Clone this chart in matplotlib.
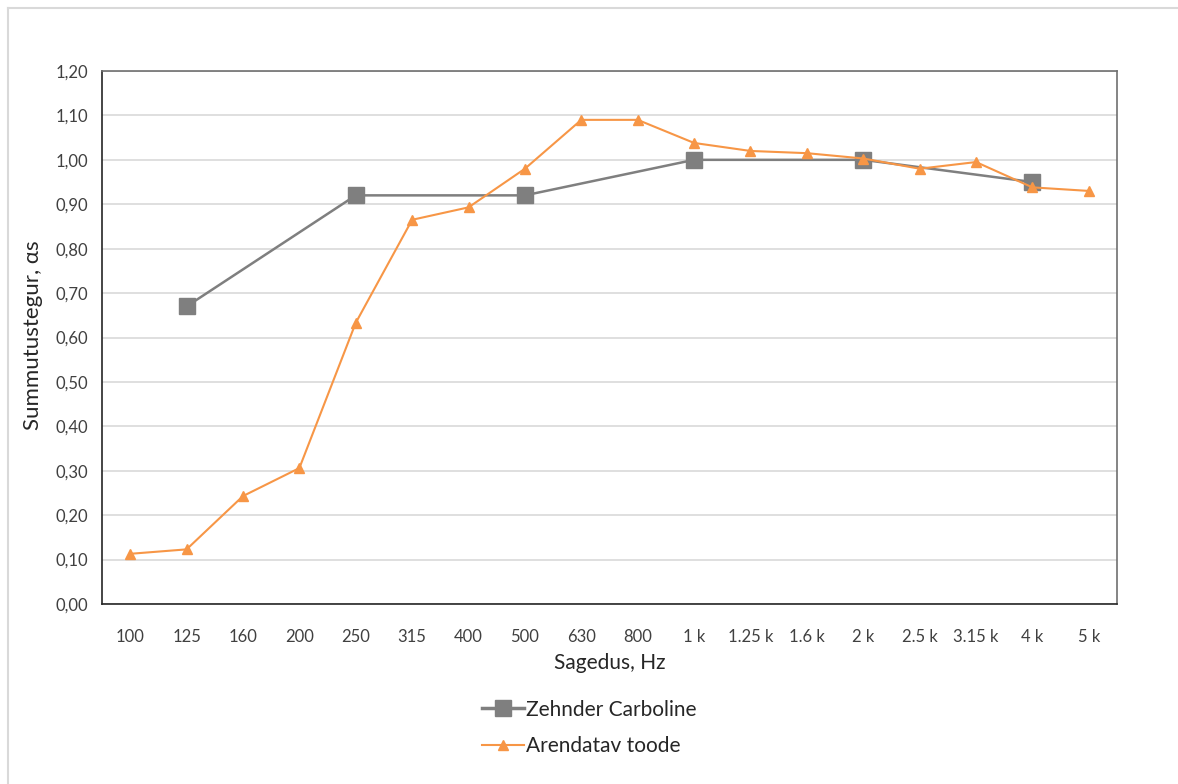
import matplotlib
matplotlib.use("Agg")
import matplotlib.pyplot as plt
from matplotlib.lines import Line2D

plt.rcParams['font.family'] = ['Lato', 'DejaVu Sans']

freqs = ["100", "125", "160", "200", "250", "315", "400", "500", "630", "800",
         "1 k", "1.25 k", "1.6 k", "2 k", "2.5 k", "3.15 k", "4 k", "5 k"]

# Zehnder Carboline is only measured at octave bands
zehnder_idx = [1, 4, 7, 10, 13, 16]
zehnder = [0.67, 0.92, 0.92, 1.00, 1.00, 0.95]

arendatav = [0.113, 0.123, 0.243, 0.306, 0.633, 0.865, 0.893, 0.98, 1.09, 1.09,
             1.038, 1.02, 1.015, 1.003, 0.98, 0.995, 0.938, 0.93]

gray = '#7f7f7f'
orange = '#f79646'

fig = plt.figure(figsize=(11.78, 7.84), dpi=100)
ax = fig.add_axes([102/1178, 1-604/784, (1117-102)/1178, (604-71)/784])

x = list(range(len(freqs)))
ax.plot(zehnder_idx, zehnder, color=gray, lw=1.8, marker='s', ms=11,
        mec=gray, mfc=gray, zorder=3, label='Zehnder Carboline')
ax.plot(x, arendatav, color=orange, lw=1.5, marker='^', ms=6.5,
        mec=orange, mfc=orange, zorder=4, label='Arendatav toode')

ax.set_xlim(-0.5, len(freqs) - 0.5)
ax.set_ylim(0, 1.2)
ax.set_yticks([i/10 for i in range(13)])
ax.set_yticklabels([f"{i/10:.2f}".replace('.', ',') for i in range(13)])
ax.set_xticks(x)
ax.set_xticklabels(freqs)
ax.tick_params(length=0, labelsize=12, colors='#404040', pad=10)
ax.tick_params(axis='x', pad=18)
ax.grid(axis='y', color='#d9d9d9', lw=1.2)
ax.set_axisbelow(True)

for s in ['left', 'bottom']:
    ax.spines[s].set_color('#262626')
for s in ['top', 'right']:
    ax.spines[s].set_color('#6f6f6f')
for s in ax.spines.values():
    s.set_linewidth(1.2)

ax.set_xlabel('Sagedus, Hz', fontsize=15, color='#262626', va='center')
ax.set_ylabel('Summutustegur, αs', fontsize=16, color='#262626', va='center')
ax.xaxis.set_label_coords(0.5, (604-663)/533)
ax.yaxis.set_label_coords((33-102)/1015, 0.505)

handles = [Line2D([], [], color=gray, lw=2.5, marker='s', ms=11),
           Line2D([], [], color=orange, lw=1.5, marker='^', ms=6.5)]
fig.legend(handles, ['Zehnder Carboline', 'Arendatav toode'],
           loc='center', bbox_to_anchor=(0.5, 1-728/784), frameon=False,
           fontsize=15, handlelength=2.0, handletextpad=0.1,
           labelspacing=0.8, labelcolor='#262626')

# light outer chart border (left and top only)
fig.add_artist(Line2D([8/1178, 8/1178], [0, 1-8/784], color='#d9d9d9', lw=1.5))
fig.add_artist(Line2D([8/1178, 1], [1-8/784, 1-8/784], color='#d9d9d9', lw=1.5))

fig.savefig('out.png', dpi=100)
